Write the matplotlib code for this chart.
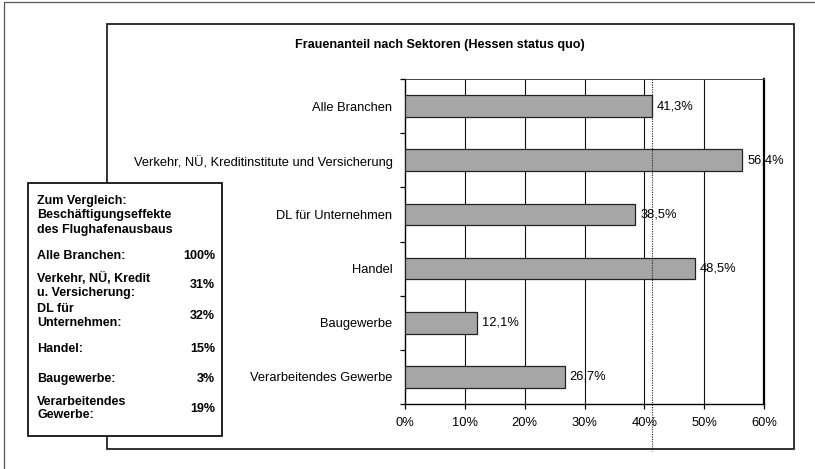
import matplotlib
matplotlib.use("Agg")
import matplotlib.pyplot as plt
from matplotlib.patches import Rectangle
import matplotlib.transforms as mtrans

# ---- data ----
categories = ["Alle Branchen",
              "Verkehr, NÜ, Kreditinstitute und Versicherung",
              "DL für Unternehmen",
              "Handel",
              "Baugewerbe",
              "Verarbeitendes Gewerbe"]
values = [41.3, 56.4, 38.5, 48.5, 12.1, 26.7]
value_labels = ["41,3%", "56,4%", "38,5%", "48,5%", "12,1%", "26,7%"]
xticks = [0, 10, 20, 30, 40, 50, 60]
xtick_labels = ["0%", "10%", "20%", "30%", "40%", "50%", "60%"]
title = "Frauenanteil nach Sektoren (Hessen status quo)"

legend_header = ["Zum Vergleich:", "Beschäftigungseffekte", "des Flughafenausbaus"]
legend_names = ["Alle Branchen:", "Verkehr, NÜ, Kredit\nu. Versicherung:", "DL für\nUnternehmen:",
                "Handel:", "Baugewerbe:", "Verarbeitendes\nGewerbe:"]
legend_values = ["100%", "31%", "32%", "15%", "3%", "19%"]

FONT = "Liberation Sans"
plt.rcParams['font.family'] = [FONT, 'DejaVu Sans']

W, H = 815, 469
fig = plt.figure(figsize=(W / 100, H / 100), dpi=100)


def fx(x):
    return x / W


def fy(y):
    return 1 - y / H


# outer frame (only left/top visible)
fig.patches.append(Rectangle((fx(4), fy(476)), fx(830) - fx(4), fy(2) - fy(476),
                             transform=fig.transFigure, fill=False,
                             edgecolor="#555555", linewidth=0.9, zorder=0))
# chart box
fig.patches.append(Rectangle((fx(107), fy(449)), fx(794) - fx(107), fy(24) - fy(449),
                             transform=fig.transFigure, fill=False,
                             edgecolor="#222222", linewidth=1.3, zorder=1))

fig.text(fx(440), fy(45), title, ha="center", va="center", fontsize=9.1,
         fontweight="bold")

LBL = 9.3
# plot area
L, T, R, B = 405, 79, 764, 404
ax = fig.add_axes([fx(L), fy(B), fx(R) - fx(L), fy(T) - fy(B)])
n = len(categories)
ypos = list(range(n))
ax.barh(ypos, values, height=0.4, color="#a6a6a6", edgecolor="#222222",
        linewidth=0.9, zorder=3)
for y, v, lab in zip(ypos, values, value_labels):
    ax.annotate(lab, (v, y), xytext=(3.5, 0), textcoords="offset points",
                ha="left", va="center", fontsize=LBL, zorder=5)

ax.set_xlim(0, 60)
ax.set_ylim(n - 0.5, -0.5)
ax.set_xticks(xticks)
ax.set_xticklabels(xtick_labels, fontsize=LBL)
ax.set_yticks([i - 0.5 for i in range(n + 1)])
ax.set_yticklabels([])
ax.set_yticks(ypos, minor=True)
ax.set_yticklabels(categories, minor=True, fontsize=LBL)
ax.tick_params(axis="y", which="major", length=3.5, width=0.9, direction="out")
ax.tick_params(axis="y", which="minor", length=0, pad=9)
ax.tick_params(axis="x", length=3.5, width=0.9, direction="out", pad=6)
for xv in xticks[1:-1]:
    ax.axvline(xv, color="#111111", linewidth=0.8, zorder=1)
ax.spines["right"].set_linewidth(1.6)
ax.spines["left"].set_linewidth(1.0)
ax.spines["bottom"].set_linewidth(1.0)
ax.spines["top"].set_linewidth(0.7)
ax.spines["top"].set_color("#444444")

# dotted reference line at "Alle Branchen" value
trans = mtrans.blended_transform_factory(ax.transData, ax.transAxes)
ax.plot([values[0], values[0]], [1.0, -(451 - B) / (B - T)], transform=trans,
        color="#222222", linestyle=(0, (1, 1.2)), linewidth=0.8, clip_on=False,
        zorder=4)

# comparison box
fig.patches.append(Rectangle((fx(28), fy(436)), fx(222) - fx(28), fy(183) - fy(436),
                             transform=fig.transFigure, facecolor="white",
                             edgecolor="#111111", linewidth=1.3, zorder=10))
fs = 9.0
for txt, y in zip(legend_header, [201, 215, 230]):
    fig.text(fx(37), fy(y), txt, ha="left", va="center", fontsize=fs,
             fontweight="bold", zorder=11)
name_y = [256, 285.5, 316, 349, 379, 408.5]
for name, val, y in zip(legend_names, legend_values, name_y):
    fig.text(fx(37), fy(y), name, ha="left", va="center", fontsize=fs,
             fontweight="bold", linespacing=1.15, zorder=11)
    fig.text(fx(215), fy(y), val, ha="right", va="center", fontsize=fs,
             fontweight="bold", zorder=11)

fig.savefig("out.png", dpi=100)
